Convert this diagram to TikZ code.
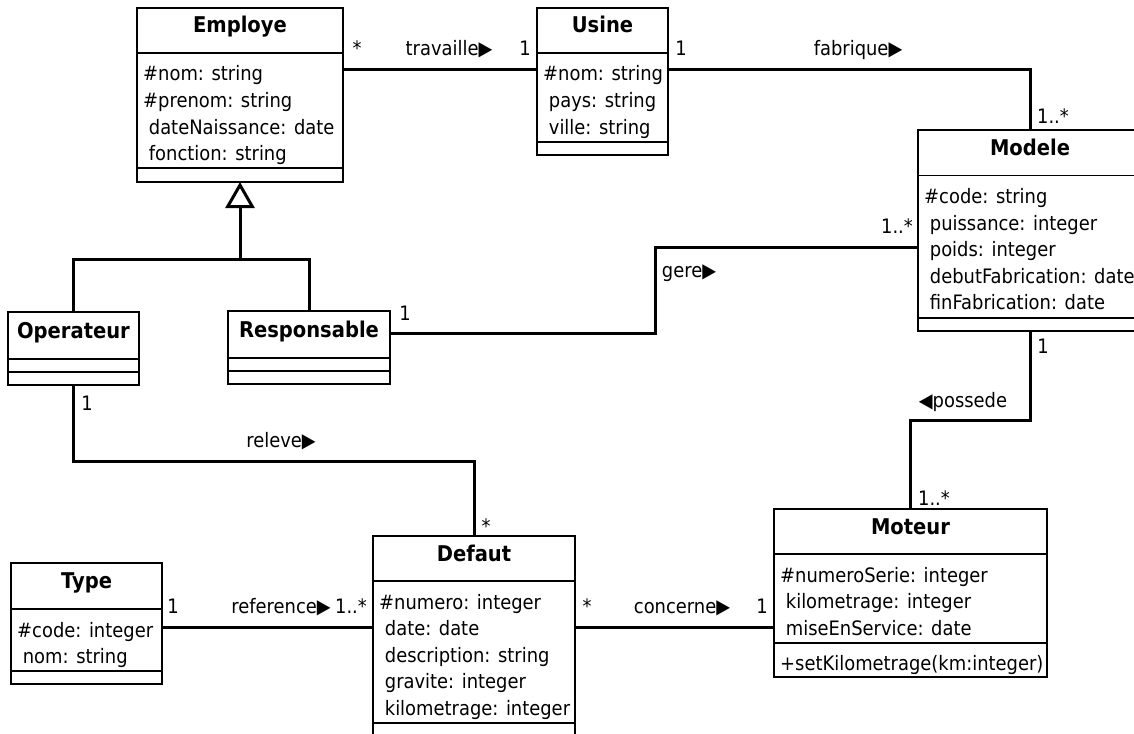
\documentclass[tikz,border=0pt]{standalone}
\usepackage{fontspec}
\setmainfont{DejaVu Sans}[FakeStretch=0.9]
\usetikzlibrary{arrows.meta}

% one blank of indentation in front of a member name
\newcommand\attrpad{\hphantom{\ }}

\tikzset{
  classframe/.style={draw=black, fill=white, line width=1.8pt, inner sep=0pt,
    outer sep=0pt, anchor=north west},
  compart/.style={draw=black, line width=1.8pt},
  classname/.style={font=\bfseries\fontsize{21.7}{26}\selectfont, anchor=base, inner sep=0pt},
  member/.style={font=\fontsize{19.9}{24}\selectfont, anchor=base west, inner sep=0pt},
  assoc/.style={draw=black, line width=3pt},
  mult/.style={font=\fontsize{19.9}{24}\selectfont, anchor=base, inner sep=0pt},
}

% list of members, one line each: prefix, x, first baseline, items
\newcommand\members[4]{%
  \foreach \txt [count=\i] in {#4}
    \node[member] (#1-\i) at (#2,{#3+26.6*(\i-1)}) {\txt};}

\begin{document}
\begin{tikzpicture}[x=1pt, y=-1pt]
\fill[white] (0,0) rectangle (1134,733);
\useasboundingbox (0,0) rectangle (1134,733);

% ---------- classes ----------
% Employe
\node[classframe, minimum width=206pt, minimum height=174pt] (employe) at (137,8) {};
\draw[compart] (137,53) -- (343,53);
\draw[compart] (137,168) -- (343,168);
\node[classname] (employe-name) at (240,33) {Employe};
\members{employe}{143}{81}{{\#nom: string},{\#prenom: string},{\attrpad dateNaissance: date},{\attrpad fonction: string}}

% Usine
\node[classframe, minimum width=131pt, minimum height=147pt] (usine) at (537,8) {};
\draw[compart] (537,53) -- (668,53);
\draw[compart] (537,142) -- (668,142);
\node[classname] (usine-name) at (602.5,33) {Usine};
\members{usine}{543}{81}{{\#nom: string},{\attrpad pays: string},{\attrpad ville: string}}

% Modele
\node[classframe, minimum width=224pt, minimum height=201pt] (modele) at (918,130) {};
\draw[compart] (918,175.5) -- (1142,175.5);
\draw[compart] (918,318) -- (1142,318);
\node[classname] (modele-name) at (1030,155) {Modele};
\members{modele}{924}{203.5}{{\#code: string},{\attrpad puissance: integer},{\attrpad poids: integer},{\attrpad debutFabrication: date},{\attrpad finFabrication: date}}

% Operateur
\node[classframe, minimum width=131pt, minimum height=73pt] (operateur) at (8,312) {};
\draw[compart] (8,359) -- (139,359);
\draw[compart] (8,372) -- (139,372);
\node[classname] (operateur-name) at (73.5,338) {Operateur};

% Responsable
\node[classframe, minimum width=162pt, minimum height=73pt] (responsable) at (228,311) {};
\draw[compart] (228,358) -- (390,358);
\draw[compart] (228,371) -- (390,371);
\node[classname] (responsable-name) at (309,337) {Responsable};

% Type
\node[classframe, minimum width=151pt, minimum height=121pt] (type) at (11,563) {};
\draw[compart] (11,609) -- (162,609);
\draw[compart] (11,671) -- (162,671);
\node[classname] (type-name) at (86.5,588) {Type};
\members{type}{17}{637}{{\#code: integer},{\attrpad nom: string}}

% Defaut
\node[classframe, minimum width=202pt, minimum height=201pt] (defaut) at (373,536) {};
\draw[compart] (373,581) -- (575,581);
\draw[compart] (373,723) -- (575,723);
\node[classname] (defaut-name) at (474,561) {Defaut};
\members{defaut}{379}{609}{{\#numero: integer},{\attrpad date: date},{\attrpad description: string},{\attrpad gravite: integer},{\attrpad kilometrage: integer}}

% Moteur
\node[classframe, minimum width=273pt, minimum height=168pt] (moteur) at (774,509) {};
\draw[compart] (774,554) -- (1047,554);
\draw[compart] (774,643) -- (1047,643);
\node[classname] (moteur-name) at (910.5,534) {Moteur};
\members{moteur}{780}{582}{{\#numeroSerie: integer},{\attrpad kilometrage: integer},{\attrpad miseEnService: date}}
\node[member] (moteur-op) at (780,670) {+setKilometrage(km:integer)};

% ---------- generalisation ----------
\coordinate (genjoin) at (240,259);
\draw[assoc] (operateur.north) |- (genjoin) -| (responsable.north);
\draw[assoc, -{Triangle[open, length=26pt, width=29pt, fill=white]}] (genjoin) -- (employe.south);

% ---------- associations ----------
% travaille
\draw[assoc] ([yshift=-62pt]employe.north east) -- ([yshift=-62pt]usine.north west);
\node[mult] (trav-m1) at (357,56) {*};
\node[mult] (trav-lbl) at (449,56) {travaille▶};
\node[mult] (trav-m2) at (525,56) {1};

% fabrique
\draw[assoc] ([yshift=-62pt]usine.north east) -| (modele.north);
\node[mult] (fab-m1) at (681,56) {1};
\node[mult] (fab-lbl) at (858,56) {fabrique▶};
\node[mult] (fab-m2) at (1053,124) {1..*};

% gere
\coordinate (gerex) at (655,0);
\coordinate (gereend) at ([yshift=-117pt]modele.north west);
\draw[assoc] ([yshift=-22pt]responsable.north east) -| (gerex |- gereend) -- (gereend);
\node[mult] (gere-m1) at (405,320) {1};
\node[mult] (gere-lbl) at (689,277) {gere▶};
\node[mult] (gere-m2) at (897,233) {1..*};

% releve
\coordinate (relevey) at (0,461);
\draw[assoc] (operateur.south) -- (operateur.south |- relevey) -| (defaut.north);
\node[mult] (rel-m1) at (87,410) {1};
\node[mult] (rel-lbl) at (281,447) {releve▶};
\node[mult] (rel-m2) at (486,533) {*};

% possede
\coordinate (possedey) at (0,420);
\draw[assoc] (modele.south) -- (modele.south |- possedey) -| (moteur.north);
\node[mult] (pos-m1) at (1043,353) {1};
\node[mult] (pos-lbl) at (963,407) {◀possede};
\node[mult] (pos-m2) at (934,505) {1..*};

% reference
\coordinate (refstart) at ([yshift=-64pt]type.north east);
\draw[assoc] (refstart) -- (refstart -| defaut.west);
\node[mult] (ref-m1) at (173,613) {1};
\node[mult] (ref-lbl) at (281,613) {reference▶};
\node[mult] (ref-m2) at (351,613) {1..*};

% concerne
\coordinate (constart) at ([yshift=-91pt]defaut.north east);
\draw[assoc] (constart) -- (constart -| moteur.west);
\node[mult] (con-m1) at (587,613) {*};
\node[mult] (con-lbl) at (682,613) {concerne▶};
\node[mult] (con-m2) at (762,613) {1};
\end{tikzpicture}
\end{document}
